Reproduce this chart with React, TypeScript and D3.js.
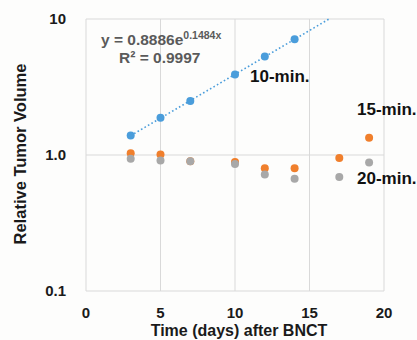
import React from "react";
import * as d3 from "d3";

const W = 417;
const H = 340;

const days10 = [3, 5, 7, 10, 12, 14];
const vol10 = [1.39, 1.88, 2.5, 3.9, 5.3, 7.1];

const days15 = [3, 5, 7, 10, 12, 14, 17, 19];
const vol15 = [1.03, 1.01, 0.9, 0.89, 0.8, 0.8, 0.95, 1.34];

const days20 = [3, 5, 7, 10, 12, 14, 17, 19];
const vol20 = [0.94, 0.91, 0.9, 0.86, 0.72, 0.67, 0.69, 0.88];

const xTicks = [0, 5, 10, 15, 20];
const yTicks = [0.1, 1, 10];
const yTickLabels = ["0.1", "1.0", "10"];

const fitA = 0.8886;
const fitB = 0.1484;
const fitStart = 3;

const FONT = "Liberation Sans, Arial, sans-serif";

export default function App() {
  const left = 86, right = 384, top = 19, bottom = 291;
  const x = d3.scaleLinear().domain([0, 20]).range([left, right]);
  const y = d3.scaleLog().domain([0.1, 10]).range([bottom, top]);

  const fitEnd = Math.log(10 / fitA) / fitB;
  const fitPts = d3.range(fitStart, fitEnd, 0.05).concat([fitEnd]).map((t) => [t, fitA * Math.exp(fitB * t)] as [number, number]);
  const line = d3.line<[number, number]>().x((d) => x(d[0])).y((d) => y(d[1]));

  const grid = "#d9d9d9";
  return (
    <svg width={W} height={H} style={{ position: "absolute", left: 0, top: 0, background: "#fdfdfc" }} fontFamily={FONT}>
      <rect x={0} y={0} width={W} height={H} fill="#fdfdfc" />
      {xTicks.map((t) => (
        <line key={"gx" + t} x1={x(t)} x2={x(t)} y1={top} y2={bottom} stroke={grid} strokeWidth={1} />
      ))}
      {yTicks.map((t) => (
        <line key={"gy" + t} x1={left} x2={right} y1={y(t)} y2={y(t)} stroke={grid} strokeWidth={1} />
      ))}
      {xTicks.map((t) => (
        <text key={"tx" + t} x={x(t)} y={318} textAnchor="middle" fontSize={15} fontWeight="bold" fill="#1a1a1a">
          {t}
        </text>
      ))}
      {yTicks.map((t, i) => (
        <text key={"ty" + t} x={66} y={y(t) + 5} textAnchor="end" fontSize={15} fontWeight="bold" fill="#1a1a1a">
          {yTickLabels[i]}
        </text>
      ))}
      <text x={239} y={336} textAnchor="middle" fontSize={16} fontWeight="bold" fill="#1a1a1a">
        Time (days) after BNCT
      </text>
      <text transform={`translate(26,154) rotate(-90)`} textAnchor="middle" fontSize={16.5} fontWeight="bold" fill="#1a1a1a">
        Relative Tumor Volume
      </text>
      <path d={line(fitPts) || ""} fill="none" stroke="#4a9ddb" strokeWidth={1.6} strokeDasharray="1.6,2.4" />
      {days10.map((d, i) => (
        <circle key={"b" + i} cx={x(d)} cy={y(vol10[i])} r={4} fill="#4a9ddb" />
      ))}
      {days15.map((d, i) => (
        <circle key={"o" + i} cx={x(d)} cy={y(vol15[i])} r={4} fill="#f07f2c" />
      ))}
      {days20.map((d, i) => (
        <circle key={"g" + i} cx={x(d)} cy={y(vol20[i])} r={4} fill="#a8a8a8" />
      ))}
      <text x={101} y={45} fontSize={15.5} fontWeight="bold" fill="#5a5a5a">
        y = 0.8886e<tspan fontSize={10.5} dy={-6}>0.1484x</tspan>
      </text>
      <text x={119} y={63} fontSize={15.5} fontWeight="bold" fill="#5a5a5a">
        R² = 0.9997
      </text>
      <text x={250} y={82} fontSize={17} fontWeight="bold" fill="#111">10-min.</text>
      <text x={357} y={115} fontSize={17} fontWeight="bold" fill="#111">15-min.</text>
      <text x={357} y={184} fontSize={17} fontWeight="bold" fill="#111">20-min.</text>
    </svg>
  );
}
